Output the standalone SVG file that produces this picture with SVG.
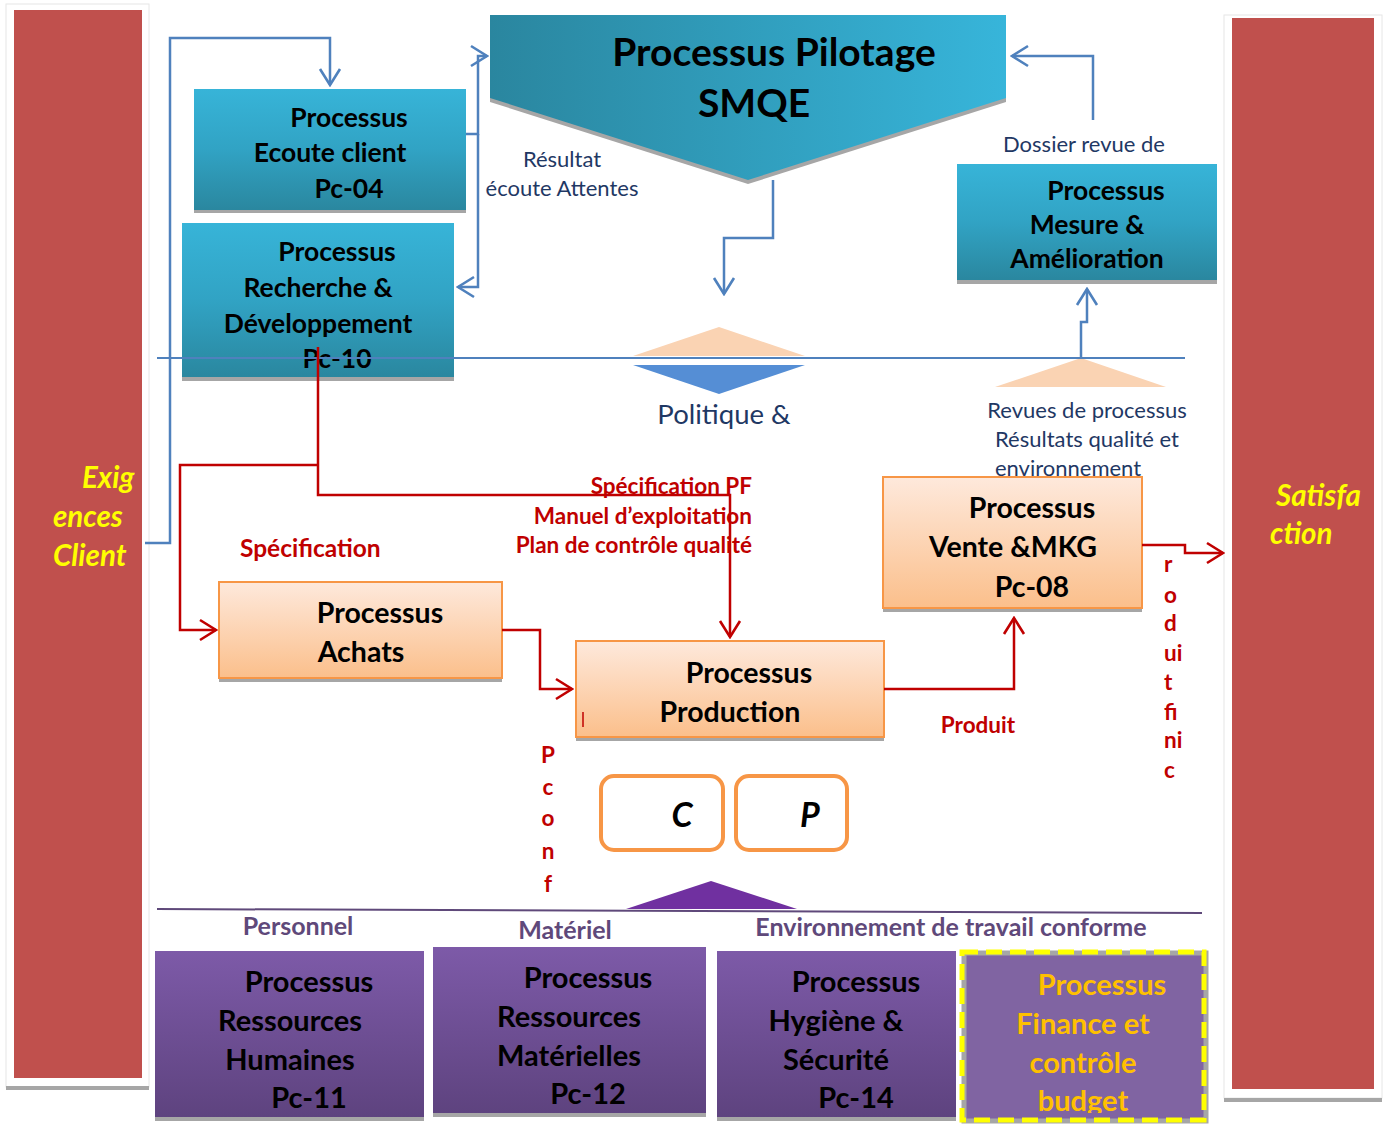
<svg xmlns="http://www.w3.org/2000/svg" width="1389" height="1124" viewBox="0 0 1389 1124">
  <defs>
    <linearGradient id="gTealH" x1="0" y1="0" x2="1" y2="0">
      <stop offset="0" stop-color="#2a869f"/>
      <stop offset="1" stop-color="#37b5da"/>
    </linearGradient>
    <linearGradient id="gTealV" x1="0" y1="0" x2="0" y2="1">
      <stop offset="0" stop-color="#37b4d8"/>
      <stop offset="0.5" stop-color="#31a3c4"/>
      <stop offset="1" stop-color="#2a879f"/>
    </linearGradient>
    <linearGradient id="gOrange" x1="0" y1="0" x2="0" y2="1">
      <stop offset="0" stop-color="#fee9dc"/>
      <stop offset="1" stop-color="#fbbf8b"/>
    </linearGradient>
    <linearGradient id="gPurple" x1="0" y1="0" x2="0" y2="1">
      <stop offset="0" stop-color="#7d5aa8"/>
      <stop offset="1" stop-color="#5e437f"/>
    </linearGradient>
    <marker id="aBlue" viewBox="0 0 20 24" markerWidth="20" markerHeight="24" refX="18" refY="12" orient="auto" markerUnits="userSpaceOnUse">
      <path d="M2,2 L18,12 L2,22" fill="none" stroke="#4f81bd" stroke-width="2.6"/>
    </marker>
    <marker id="aRed" viewBox="0 0 20 24" markerWidth="20" markerHeight="24" refX="18" refY="12" orient="auto" markerUnits="userSpaceOnUse">
      <path d="M2,2 L18,12 L2,22" fill="none" stroke="#c00000" stroke-width="2.6"/>
    </marker>
    <clipPath id="clipFin">
      <rect x="962" y="952" width="242" height="161"/>
    </clipPath>
  </defs>
  <style>
    text { font-family: Lato, "Liberation Sans", sans-serif; }
    .nb { font-weight: bold; fill: #000; text-anchor: middle; }
    .title { font-size: 39px; }
    .t24 { font-size: 26.5px; }
    .t26 { font-size: 28.5px; }
    .t28 { font-size: 29px; }
    .lbl { fill: #1f3864; font-size: 22px; text-anchor: middle; }
    .big { font-size: 27.5px; }
    .red { fill: #c00000; font-weight: bold; font-size: 22.5px; }
    .spec { font-size: 24.5px; }
    .pur { fill: #5f497a; font-weight: bold; font-size: 25px; text-anchor: middle; }
    .side { fill: #ffff00; font-weight: bold; font-style: italic; font-size: 29.5px; }
    .shadow { fill: #a6a6a6; }
    .blue { fill: none; stroke: #4f81bd; stroke-width: 2.5; }
    .redl { fill: none; stroke: #c00000; stroke-width: 2.5; }
    .obox { fill: url(#gOrange); stroke: #f79646; stroke-width: 2; }
    .pbox { fill: url(#gPurple); }
    .fin { fill: #ffc000; font-weight: bold; font-size: 29px; text-anchor: middle; }
    .cp { font-size: 34px; font-weight: bold; font-style: italic; text-anchor: middle; fill: #000; }
  </style>

  <!-- side bars -->
  <g id="bar-exigences">
    <rect x="6" y="4" width="143" height="1083" fill="#ffffff" stroke="#e6e6e6" stroke-width="1"/>
    <rect x="6" y="1086" width="143" height="4" class="shadow"/>
    <rect x="14" y="10" width="128" height="1068" fill="#c0504d"/>
    <text class="side" x="82" y="488">Exig</text>
    <text class="side" x="53" y="527">ences</text>
    <text class="side" x="53" y="566">Client</text>
  </g>
  <g id="bar-satisfaction">
    <rect x="1224" y="15" width="158" height="1083" fill="#ffffff" stroke="#e6e6e6" stroke-width="1"/>
    <rect x="1224" y="1098" width="158" height="4" class="shadow"/>
    <rect x="1232" y="18" width="142" height="1071" fill="#c0504d"/>
    <text class="side" x="1276" y="506">Satisfa</text>
    <text class="side" x="1270" y="544">ction</text>
  </g>

  <!-- flow labels under the boxes -->
  <g id="labels">
    <text class="lbl" x="562" y="167">Résultat</text>
    <text class="lbl" x="562" y="196">écoute Attentes</text>
    <text class="lbl" x="1084" y="152">Dossier revue de</text>
    <text class="lbl big" x="724" y="424">Politique &amp;</text>
    <text class="lbl" x="1087" y="418">Revues de processus</text>
    <text class="lbl" x="1087" y="447">Résultats qualité et</text>
    <text class="lbl" x="1068" y="476">environnement</text>
  </g>

  <!-- orientation triangles -->
  <g id="triangles">
    <polygon points="719,327 805,356 633,356" fill="#fad3b3"/>
    <polygon points="633,365 805,365 719,394" fill="#558ed5"/>
    <polygon points="1081,358 1166,387 995,387" fill="#fad3b3"/>
    <polygon points="711,881 797,909 626,909" fill="#7030a0"/>
  </g>

  <g id="pilotage">
    <polygon points="490,19 1006,19 1006,102 748,184 490,102" class="shadow"/>
    <polygon points="490,15 1006,15 1006,98 748,180 490,98" fill="url(#gTealH)"/>
    <text class="nb title" x="774" y="66">Processus Pilotage</text>
    <text class="nb title" x="754" y="117">SMQE</text>
  </g>

  <g id="ecoute-client">
    <rect x="194" y="208" width="272" height="5" class="shadow"/>
    <rect x="194" y="89" width="272" height="121" fill="url(#gTealV)"/>
    <text class="nb t24" x="349" y="127">Processus</text>
    <text class="nb t24" x="330" y="162">Ecoute client</text>
    <text class="nb t24" x="349" y="198">Pc-04</text>
  </g>

  <g id="recherche-developpement">
    <rect x="182" y="375" width="272" height="6" class="shadow"/>
    <rect x="182" y="223" width="272" height="154" fill="url(#gTealV)"/>
    <text class="nb t24" x="337" y="261">Processus</text>
    <text class="nb t24" x="318" y="297">Recherche &amp;</text>
    <text class="nb t24" x="318" y="333">Développement</text>
    <text class="nb t24" x="337" y="368">Pc-10</text>
  </g>

  <g id="mesure-amelioration">
    <rect x="957" y="278" width="260" height="6" class="shadow"/>
    <rect x="957" y="164" width="260" height="116" fill="url(#gTealV)"/>
    <text class="nb t24" x="1106" y="200">Processus</text>
    <text class="nb t24" x="1087" y="234">Mesure &amp;</text>
    <text class="nb t24" x="1087" y="268">Amélioration</text>
  </g>

  <g id="achats">
    <rect x="219" y="677" width="283" height="5" class="shadow"/>
    <rect x="219" y="582" width="283" height="96" class="obox"/>
    <text class="nb t26" x="380" y="623">Processus</text>
    <text class="nb t26" x="361" y="662">Achats</text>
  </g>

  <g id="production">
    <rect x="576" y="736" width="308" height="5" class="shadow"/>
    <rect x="576" y="641" width="308" height="96" class="obox"/>
    <text class="nb t26" x="749" y="683">Processus</text>
    <text class="nb t26" x="730" y="722">Production</text>
    <line x1="583" y1="712" x2="583" y2="727" stroke="#c00000" stroke-width="1.5"/>
  </g>

  <g id="vente-mkg">
    <rect x="883" y="607" width="259" height="5" class="shadow"/>
    <rect x="883" y="477" width="259" height="131" class="obox"/>
    <text class="nb t26" x="1032" y="518">Processus</text>
    <text class="nb t26" x="1013" y="557">Vente &amp;MKG</text>
    <text class="nb t26" x="1032" y="597">Pc-08</text>
  </g>

  <g id="cp-boxes">
    <rect x="601" y="776" width="122" height="74" rx="13" fill="#ffffff" stroke="#f79646" stroke-width="4"/>
    <rect x="736" y="776" width="111" height="74" rx="13" fill="#ffffff" stroke="#f79646" stroke-width="4"/>
    <text class="cp" x="682" y="827">C</text>
    <text class="cp" x="810" y="827">P</text>
  </g>

  <!-- resources line and captions -->
  <g id="resources-caption">
    <line x1="157" y1="909" x2="1202" y2="913" stroke="#5f497a" stroke-width="2"/>
    <text class="pur" x="298" y="935">Personnel</text>
    <text class="pur" x="565" y="939">Matériel</text>
    <text class="pur" x="951" y="936">Environnement de travail conforme</text>
  </g>

  <g id="ressources-humaines">
    <rect x="155" y="1116" width="269" height="5" class="shadow"/>
    <rect x="155" y="951" width="269" height="166" class="pbox"/>
    <text class="nb t28" x="309" y="992" fill="#111">Processus</text>
    <text class="nb t28" x="290" y="1031">Ressources</text>
    <text class="nb t28" x="290" y="1070">Humaines</text>
    <text class="nb t28" x="309" y="1108">Pc-11</text>
  </g>

  <g id="ressources-materielles">
    <rect x="433" y="1112" width="273" height="5" class="shadow"/>
    <rect x="433" y="947" width="273" height="166" class="pbox"/>
    <text class="nb t28" x="588" y="988">Processus</text>
    <text class="nb t28" x="569" y="1027">Ressources</text>
    <text class="nb t28" x="569" y="1066">Matérielles</text>
    <text class="nb t28" x="588" y="1104">Pc-12</text>
  </g>

  <g id="hygiene-securite">
    <rect x="717" y="1116" width="239" height="5" class="shadow"/>
    <rect x="717" y="951" width="239" height="166" class="pbox"/>
    <text class="nb t28" x="856" y="992">Processus</text>
    <text class="nb t28" x="836" y="1031">Hygiène &amp;</text>
    <text class="nb t28" x="836" y="1070">Sécurité</text>
    <text class="nb t28" x="856" y="1108">Pc-14</text>
  </g>

  <g id="finance-budget">
    <rect x="962" y="952" width="242" height="168" fill="#8064a2"/>
    <rect x="962" y="952" width="242" height="168" fill="none" stroke="#a6a6a6" stroke-width="5" transform="translate(2,1)"/>
    <rect x="962" y="952" width="242" height="168" fill="none" stroke="#ffff00" stroke-width="5" stroke-dasharray="16,8"/>
    <g clip-path="url(#clipFin)">
      <text class="fin" x="1102" y="995">Processus</text>
      <text class="fin" x="1083" y="1034">Finance et</text>
      <text class="fin" x="1083" y="1073">contrôle</text>
      <text class="fin" x="1083" y="1111">budget</text>
    </g>
  </g>

  <!-- connectors -->
  <g id="connectors">
    <line x1="157" y1="358" x2="1185" y2="358" stroke="#4f81bd" stroke-width="2"/>
    <path class="blue" d="M145,543 H170 V38 H330 V85" marker-end="url(#aBlue)"/>
    <path class="blue" d="M466,134 H478 V56 H487" marker-end="url(#aBlue)"/>
    <path class="blue" d="M478,134 V287 H458" marker-end="url(#aBlue)"/>
    <path class="blue" d="M773,180 V238 H724 V294" marker-end="url(#aBlue)"/>
    <path class="blue" d="M1093,120 V56 H1012" marker-end="url(#aBlue)"/>
    <path class="blue" d="M1081,358 V322 H1087 V289" marker-end="url(#aBlue)"/>

    <path class="redl" d="M318,347 V495 H730 V637" marker-end="url(#aRed)"/>
    <path class="redl" d="M318,465 H180 V630 H216" marker-end="url(#aRed)"/>
    <path class="redl" d="M502,630 H540 V689 H572" marker-end="url(#aRed)"/>
    <path class="redl" d="M884,689 H1014 V618" marker-end="url(#aRed)"/>
    <path class="redl" d="M1142,545 H1185 V553 H1223" marker-end="url(#aRed)"/>
  </g>

  <!-- connector labels -->
  <g id="connector-labels">
    <text class="red spec" x="240" y="557">Spécification</text>
    <text class="red" x="752" y="494" text-anchor="end">Spécification PF</text>
    <text class="red" x="752" y="524" text-anchor="end">Manuel d’exploitation</text>
    <text class="red" x="752" y="553" text-anchor="end">Plan de contrôle qualité</text>
    <text class="red" x="978" y="733" text-anchor="middle">Produit</text>
    <g class="red">
      <text x="1164" y="572">r</text>
      <text x="1164" y="603">o</text>
      <text x="1164" y="631">d</text>
      <text x="1164" y="661">ui</text>
      <text x="1164" y="690">t</text>
      <text x="1164" y="720">fi</text>
      <text x="1164" y="748">ni</text>
      <text x="1164" y="778">c</text>
    </g>
    <g class="red" text-anchor="middle">
      <text x="548" y="763">P</text>
      <text x="548" y="795">c</text>
      <text x="548" y="826">o</text>
      <text x="548" y="859">n</text>
      <text x="548" y="892">f</text>
    </g>
  </g>
</svg>
